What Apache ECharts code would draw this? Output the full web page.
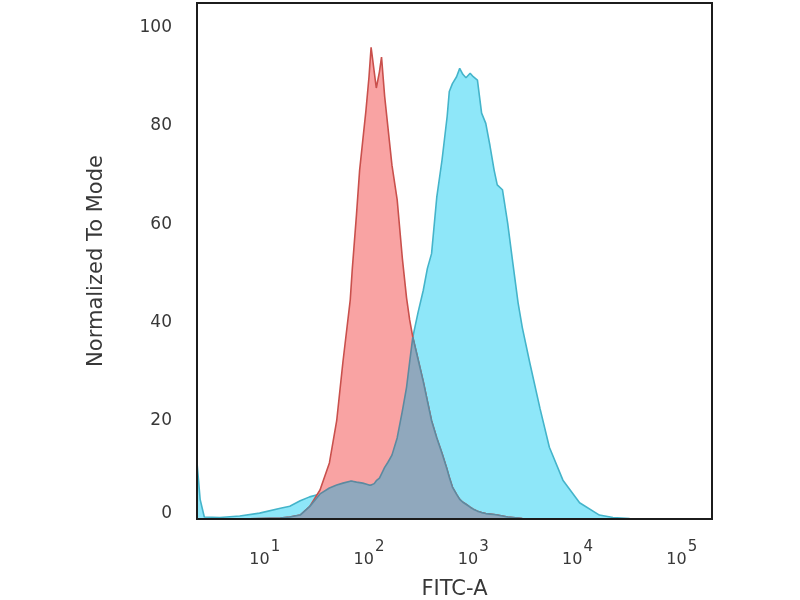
<!DOCTYPE html>
<html>
<head>
<meta charset="utf-8">
<script src="https://cdn.jsdelivr.net/npm/echarts@6/dist/echarts.min.js"></script>
<style>html,body{margin:0;padding:0;background:#fff}#chart{width:800px;height:600px}</style>
</head>
<body>
<div id="chart"></div>
<script>
// FITC-A intensity, as log10 of the value (2.00 = 10^2)
const fitcLog = [0.35,0.38,0.42,0.57,0.76,0.95,1.15,1.24,1.34,1.43,1.53,1.62,1.69,1.75,1.82,1.84,1.88,1.91,1.94,1.97,2.00,2.02,2.05,2.07,2.10,2.12,2.15,2.18,2.22,2.27,2.32,2.36,2.39,2.42,2.47,2.52,2.56,2.60,2.65,2.70,2.75,2.77,2.80,2.84,2.87,2.90,2.93,2.97,3.00,3.04,3.08,3.12,3.16,3.20,3.23,3.28,3.33,3.38,3.43,3.47,3.54,3.64,3.73,3.86,4.02,4.21,4.34,4.50,4.79,5.29];
// isotype control (red), normalized to mode
const isotype = [0,0,0,0,0,0.1,0.2,0.4,0.8,2.5,5.9,11.4,20,32,44.6,51,62,71,77,83,90,96,91,87.7,91,94,86,80,72,65,53,45,40.5,37,32.5,28,24,20,16.5,13.4,10,8.5,6.5,5,4,3.4,3,2.4,2,1.6,1.3,1.1,1,0.9,0.8,0.6,0.4,0.3,0.2,0.1,0,0,0,0,0,0,0,0,0,0];
// stained sample (blue), normalized to mode
const stained = [11.5,4,0.4,0.3,0.6,1.2,2.2,2.6,3.7,4.5,5.1,6.3,6.9,7.3,7.7,7.7,7.5,7.4,7.3,7.1,6.9,6.9,7.2,7.8,8.3,9.2,10.5,11.5,13,16.5,22,26.8,32,37,42,46.5,51,54,65.5,73,82,87,88.6,90,91.7,90.5,89.8,90.7,90,89.3,82.6,80.5,76,71,68,67,60.2,52,44,39,32,22.5,14.6,7.9,3.3,0.8,0.3,0.1,0,0];
const xDecades = [1,2,3,4,5];
const yTicks = [0,20,40,60,80,100];
const xTitle = 'FITC-A';
const yTitle = 'Normalized To Mode';

const pair = (ys) => fitcLog.map((x, i) => [x, ys[i]]);
const overlap = isotype.map((v, i) => Math.min(v, stained[i]));

const font = 'DejaVu Sans';
const txt = '#383838';
const chart = echarts.init(document.getElementById('chart'), null, {renderer: 'canvas'});
chart.setOption({
  animation: false,
  backgroundColor: '#ffffff',
  grid: {left: 197, right: 88, top: 3, bottom: 81, outerBoundsMode: 'none', containLabel: false,
         show: true, borderColor: '#1c1c1c', borderWidth: 2, backgroundColor: 'transparent'},
  xAxis: {
    type: 'value', min: 0.35, max: 5.29, z: 5,
    name: xTitle, nameLocation: 'middle', nameGap: 60,
    nameTextStyle: {fontFamily: font, fontSize: 21, color: txt},
    axisLine: {show: true, onZero: false, lineStyle: {color: '#1c1c1c', width: 2}},
    axisTick: {show: false},
    splitLine: {show: false},
    axisLabel: {
      customValues: xDecades, margin: 21, color: txt, fontFamily: font,
      formatter: (v) => '{b|10}{s|' + v + '}',
      rich: {
        b: {fontFamily: font, fontSize: 16, color: txt, lineHeight: 40},
        s: {fontFamily: font, fontSize: 15, color: txt, lineHeight: 19, verticalAlign: 'top', padding: [0, 0, 0, 1]}
      }
    }
  },
  yAxis: {
    type: 'value', min: 0, max: 105, z: 5,
    name: yTitle, nameLocation: 'middle', nameGap: 90,
    nameTextStyle: {fontFamily: font, fontSize: 21, color: txt},
    axisLine: {show: true, lineStyle: {color: '#1c1c1c', width: 2}},
    axisTick: {show: false},
    splitLine: {show: false},
    axisLabel: {
      customValues: yTicks, margin: 25, color: txt, fontFamily: font, fontSize: 17,
      formatter: (v) => v === 0 ? '{z|0}' : String(v),
      rich: {z: {fontFamily: font, fontSize: 17, color: txt, padding: [0, 0, 10, 0]}}
    }
  },
  series: [
    {
      name: 'Stained', type: 'line', data: pair(stained), symbol: 'none', z: 2,
      lineStyle: {color: '#44b4ca', width: 1.6},
      areaStyle: {color: '#8ee7f9', opacity: 1}
    },
    {
      name: 'Isotype', type: 'line', data: pair(isotype), symbol: 'none', z: 3,
      lineStyle: {color: '#c9504c', width: 1.6},
      areaStyle: {color: '#f9a3a3', opacity: 1}
    },
    {
      name: 'Overlap', type: 'line', data: pair(overlap), symbol: 'none', z: 4,
      lineStyle: {color: '#5c8aa0', width: 1.6},
      areaStyle: {color: '#90a8bd', opacity: 1}
    }
  ]
});
</script>
</body>
</html>
